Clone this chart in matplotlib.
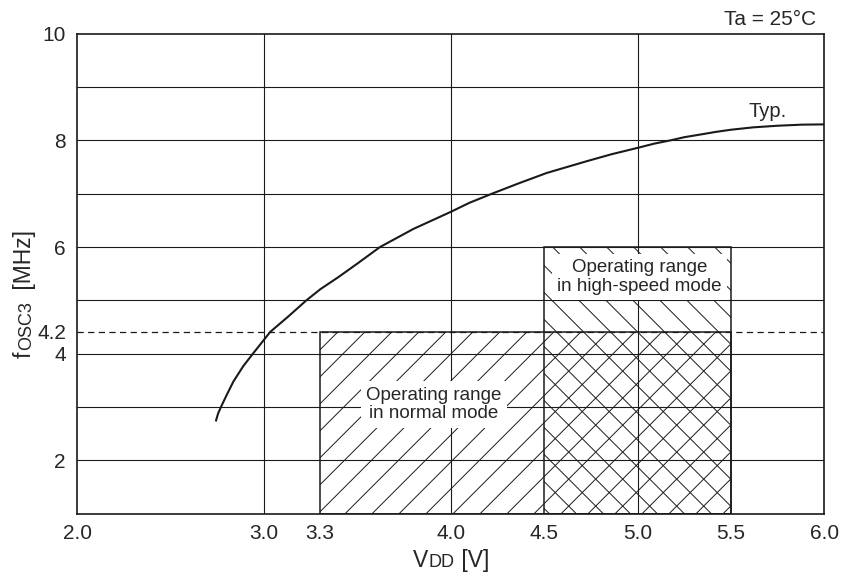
import numpy as np
import matplotlib
matplotlib.use('Agg')
import matplotlib.pyplot as plt
from matplotlib import transforms
from matplotlib.patches import Rectangle

plt.rcParams['font.family'] = ['Liberation Sans', 'DejaVu Sans']

# curve: VDD [V] vs fOSC3 [MHz]
vdd = [2.744, 2.755, 2.77, 2.80, 2.837, 2.89, 2.941, 3.0, 3.034, 3.131, 3.227, 3.302, 3.40,
       3.50, 3.621, 3.80, 4.0, 4.10, 4.22, 4.36, 4.514, 4.728, 4.86, 5.0, 5.09,
       5.175, 5.25, 5.336, 5.42, 5.5, 5.62, 5.75, 5.88, 6.0]
fosc = [2.75, 2.88, 3.0, 3.22, 3.48, 3.77, 4.0, 4.26, 4.41, 4.70, 5.0, 5.21, 5.44,
        5.69, 6.0, 6.34, 6.66, 6.83, 7.0, 7.19, 7.39, 7.61, 7.74, 7.86, 7.94,
        8.0, 8.06, 8.11, 8.16, 8.20, 8.245, 8.275, 8.295, 8.30]

x_ticks = [2.0, 3.0, 3.3, 4.0, 4.5, 5.0, 5.5, 6.0]
x_labels = ['2.0', '3.0', '3.3', '4.0', '4.5', '5.0', '5.5', '6.0']
limit_level = 4.41   # where the 4.2 MHz line sits in the picture
y_ticks = [2, 4, limit_level, 6, 8, 10]
y_labels = ['2', '4', '4.2', '6', '8', '10']
x_grid = [3.0, 4.0, 5.0]
y_grid = [2, 3, 4, 5, 6, 7, 8, 9]

normal_box = (3.3, 5.5, 1.0, limit_level)   # x0, x1, y0, y1
high_box = (4.5, 5.5, 1.0, 6.0)

ink = '#1a1a1a'
txt = '#262626'

fig = plt.figure(figsize=(8.45, 5.77), dpi=100)
ax = fig.add_axes([77/845, 1-513.8/577, (824.5-77)/845, (513.8-33.7)/577])
ax.set_xlim(2.0, 6.0)
ax.set_ylim(1.0, 10.0)

for gx in x_grid:
    ax.axvline(gx, color=ink, lw=0.8, zorder=1.5)
for gy in y_grid:
    ax.axhline(gy, color=ink, lw=0.8, zorder=1.5)
ax.axhline(limit_level, color=ink, lw=0.9, ls=(0, (5, 3.5)), zorder=1.6)


def hatch_box(ax, box, direction, anchor, step_px=27.0):
    # 45 degree lines (in pixels) clipped to the box; anchor = x where a line meets the top edge
    x0, x1, y0, y1 = box
    rect = Rectangle((x0, y0), x1-x0, y1-y0, fill=False, ec=ink, lw=1.1, zorder=2)
    ax.add_patch(rect)
    p0 = ax.transData.transform((0, 0))
    p1 = ax.transData.transform((1, 1))
    sx, sy = p1 - p0
    run = (y1-y0)*sy/sx
    step = step_px/sx
    k0 = int(np.floor((x0 - run - anchor)/step)) - 1
    k1 = int(np.ceil((x1 + run - anchor)/step)) + 1
    for k in range(k0, k1+1):
        top = anchor + k*step
        bottom = top - run if direction > 0 else top + run
        ln, = ax.plot([bottom, top], [y0, y1], color=ink, lw=0.7, zorder=1.2)
        ln.set_clip_path(rect)


hatch_box(ax, normal_box, +1, anchor=3.396)
hatch_box(ax, high_box, -1, anchor=4.69)

ax.plot(vdd, fosc, color=ink, lw=1.5, zorder=3, solid_joinstyle='round')

box_style = dict(boxstyle='square,pad=0.3', fc='white', ec='none')
ax.text(3.91, 3.05, 'Operating range\nin normal mode', ha='center', va='center',
        fontsize=13.5, color=txt, linespacing=1.12, bbox=box_style, zorder=5)
ax.text(5.01, 5.44, 'Operating range\nin high-speed mode', ha='center', va='center',
        fontsize=13.5, color=txt, linespacing=1.12, bbox=box_style, zorder=5)
ax.text(5.594, 8.44, 'Typ.', ha='left', va='baseline', fontsize=14.5, color=txt)

ax.set_xticks(x_ticks, x_labels)
ax.set_yticks(y_ticks, y_labels)
ax.tick_params(length=0, labelsize=15, labelcolor=txt)
ax.tick_params(axis='x', pad=7)
ax.tick_params(axis='y', pad=8)
for sp in ax.spines.values():
    sp.set_linewidth(1.2)
    sp.set_color(ink)

fig.text(816/845, 1-25/577, 'Ta = 25°C', ha='right', va='baseline', fontsize=15, color=txt)


def mixed_text(fig, x, y, parts, rotation=0):
    # pieces of different size on one baseline; each part is (text, size, extra gap in px)
    renderer = fig.canvas.get_renderer()
    trans = fig.transFigure
    for s, size, gap in parts:
        if rotation:
            trans = transforms.offset_copy(trans, y=gap, units='dots')
        else:
            trans = transforms.offset_copy(trans, x=gap, units='dots')
        t = fig.text(x, y, s, fontsize=size, rotation=rotation, rotation_mode='anchor',
                     ha='left', va='baseline', transform=trans, color=txt)
        ext = t.get_window_extent(renderer)
        if rotation:
            trans = transforms.offset_copy(t.get_transform(), y=ext.height, units='dots')
        else:
            trans = transforms.offset_copy(t.get_transform(), x=ext.width, units='dots')


mixed_text(fig, 413/845, 1-567/577, [('V', 16.5, 0), ('DD', 13, 0), (' [V]', 16.5, 1)])
mixed_text(fig, 31/845, 1-358/577, [('f', 16.5, 0), ('OSC3', 13, 1), (' [MHz]', 16.5, 6)],
           rotation=90)

fig.savefig('out.png', dpi=100)
